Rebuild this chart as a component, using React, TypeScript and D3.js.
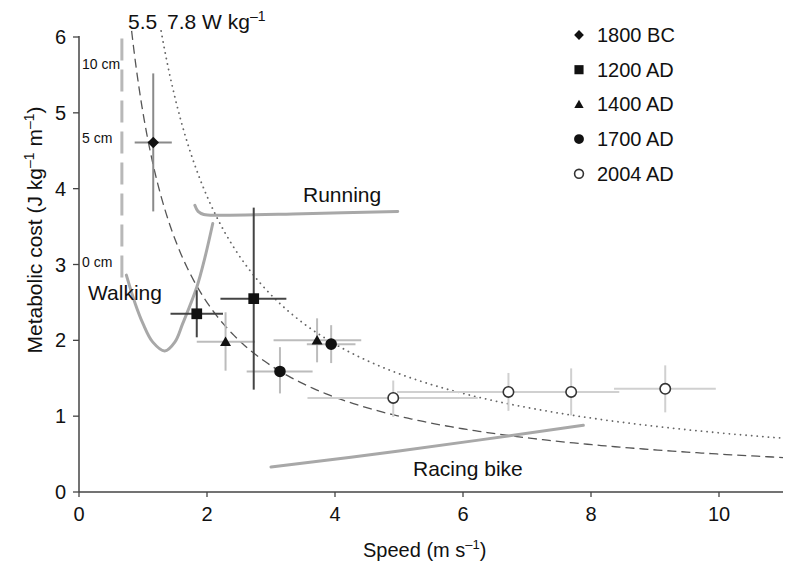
import React, {useEffect, useRef} from 'react';
import * as d3 from 'd3';

// chart size (the page window)
const W = 788;
const H = 563;

// axis ticks
const xTicks = [0, 2, 4, 6, 8, 10];
const yTicks = [0, 1, 2, 3, 4, 5, 6];

// iso-power curves, cost = P / v
const isoLowPower = 5.0;
const isoHighPower = 7.8;

// legend
const eras = ['1800 BC', '1200 AD', '1400 AD', '1700 AD', '2004 AD'];

// measured points: speed, cost and their error bars
type Pt = {v: number, c: number, x0: number, x1: number, y0: number, y1: number};
const bc1800: Pt[] = [{v: 1.16, c: 4.61, x0: 0.87, x1: 1.45, y0: 3.70, y1: 5.52}];
const ad1200: Pt[] = [
    {v: 1.84, c: 2.35, x0: 1.43, x1: 2.25, y0: 2.04, y1: 2.66},
    {v: 2.73, c: 2.55, x0: 2.21, x1: 3.24, y0: 1.35, y1: 3.75}
];
const ad1400: Pt[] = [
    {v: 2.29, c: 1.98, x0: 1.84, x1: 2.75, y0: 1.60, y1: 2.37},
    {v: 3.72, c: 2.00, x0: 3.04, x1: 4.41, y0: 1.71, y1: 2.29}
];
const ad1700: Pt[] = [
    {v: 3.14, c: 1.59, x0: 2.62, x1: 3.65, y0: 1.30, y1: 1.91},
    {v: 3.94, c: 1.95, x0: 3.56, x1: 4.32, y0: 1.70, y1: 2.20}
];
const ad2004: Pt[] = [
    {v: 4.91, c: 1.24, x0: 3.57, x1: 6.23, y0: 0.99, y1: 1.47},
    {v: 6.71, c: 1.32, x0: 4.97, x1: 8.44, y0: 1.07, y1: 1.57},
    {v: 7.69, c: 1.32, x0: 6.94, x1: 8.44, y0: 1.01, y1: 1.63},
    {v: 9.16, c: 1.36, x0: 8.36, x1: 9.95, y0: 1.05, y1: 1.67}
];

// gait curves [speed, cost]
const walking: [number, number][] = [
    [0.74, 2.86], [0.88, 2.48], [1.0, 2.22], [1.15, 1.98], [1.34, 1.86],
    [1.5, 1.98], [1.62, 2.22], [1.84, 2.7], [1.97, 3.1], [2.09, 3.54]
];
const running: [number, number][] = [
    [1.81, 3.78], [1.86, 3.7], [1.95, 3.66], [2.2, 3.65], [3.5, 3.67], [4.98, 3.70]
];
const racingBike: [number, number][] = [[3.0, 0.33], [5.0, 0.54], [7.88, 0.88]];

// leg-length markers on the vertical dashed bar
const legLabels = [{t: '10 cm', c: 5.65}, {t: '5 cm', c: 4.67}, {t: '0 cm', c: 3.03}];
const legBar = {v: 0.67, c0: 2.82, c1: 5.98};

const font = '"Liberation Sans", Arial, sans-serif';

const App = () => {
    const anchor = useRef<SVGSVGElement>(null);

    useEffect(() => {
        const svg = d3.select(anchor.current);
        svg.selectAll('*').remove();

        const x = d3.scaleLinear().domain([0, 11]).range([79, 783]);
        const y = d3.scaleLinear().domain([0, 6]).range([492, 37]);

        const g = svg.append('g');

        // axes
        const axisColor = '#444';
        g.append('line').attr('x1', x(0)).attr('x2', x(11)).attr('y1', y(0)).attr('y2', y(0))
            .attr('stroke', axisColor).attr('stroke-width', 1.5);
        g.append('line').attr('x1', x(0)).attr('x2', x(0)).attr('y1', y(0)).attr('y2', y(6) - 1)
            .attr('stroke', axisColor).attr('stroke-width', 1.5);

        xTicks.forEach(t => {
            g.append('line').attr('x1', x(t)).attr('x2', x(t)).attr('y1', y(0)).attr('y2', y(0) + 5)
                .attr('stroke', axisColor).attr('stroke-width', 1.3);
            g.append('text').attr('x', x(t)).attr('y', 521).attr('text-anchor', 'middle')
                .style('font-family', font).style('font-size', '20px').attr('fill', '#111').text(t);
        });
        yTicks.forEach(t => {
            g.append('line').attr('x1', x(0) - 6).attr('x2', x(0)).attr('y1', y(t)).attr('y2', y(t))
                .attr('stroke', axisColor).attr('stroke-width', 1.3);
            g.append('text').attr('x', 66).attr('y', y(t) + 7).attr('text-anchor', 'end')
                .style('font-family', font).style('font-size', '20px').attr('fill', '#111').text(t);
        });

        // axis titles
        const xt = g.append('text').attr('x', 363).attr('y', 557)
            .style('font-family', font).style('font-size', '20px').attr('fill', '#111');
        xt.append('tspan').text('Speed (m s');
        xt.append('tspan').attr('dy', -8).style('font-size', '13px').text('–1');
        xt.append('tspan').attr('dy', 8).text(')');

        const yt = g.append('text').attr('transform', 'translate(42,230) rotate(-90)')
            .attr('text-anchor', 'middle')
            .style('font-family', font).style('font-size', '21px').attr('fill', '#111');
        yt.append('tspan').text('Metabolic cost (J kg');
        yt.append('tspan').attr('dy', -8).style('font-size', '14px').text('–1');
        yt.append('tspan').attr('dy', 8).text(' m');
        yt.append('tspan').attr('dy', -8).style('font-size', '14px').text('–1');
        yt.append('tspan').attr('dy', 8).text(')');

        // leg length dashed bar + labels
        g.append('line').attr('x1', x(legBar.v)).attr('x2', x(legBar.v))
            .attr('y1', y(legBar.c1)).attr('y2', y(legBar.c0))
            .attr('stroke', '#b8b8b8').attr('stroke-width', 3).attr('stroke-dasharray', '22,9');
        legLabels.forEach(l => {
            g.append('text').attr('x', 82).attr('y', y(l.c) + 5)
                .style('font-family', font).style('font-size', '14px').attr('fill', '#111').text(l.t);
        });

        // iso-power hyperbolas
        const line = d3.line<[number, number]>().x(d => x(d[0])).y(d => y(d[1]));
        const hyper = (p: number) => {
            const vStart = p / 6.08;
            return d3.range(0, 201).map(i => {
                const v = vStart + (11 - vStart) * Math.pow(i / 200, 1.6);
                return [v, p / v] as [number, number];
            });
        };
        g.append('path').attr('d', line(hyper(isoLowPower))).attr('fill', 'none')
            .attr('stroke', '#555').attr('stroke-width', 1.3).attr('stroke-dasharray', '9,5');
        g.append('path').attr('d', line(hyper(isoHighPower))).attr('fill', 'none')
            .attr('stroke', '#666').attr('stroke-width', 1.8).attr('stroke-linecap', 'round')
            .attr('stroke-dasharray', '0.1,5.5');

        g.append('text').attr('x', 128).attr('y', 29)
            .style('font-family', font).style('font-size', '21px').attr('fill', '#111').text('5.5');
        const iso = g.append('text').attr('x', 167).attr('y', 29)
            .style('font-family', font).style('font-size', '21px').attr('fill', '#111');
        iso.append('tspan').text('7.8 W kg');
        iso.append('tspan').attr('dy', -8).style('font-size', '14px').text('–1');

        // gait curves
        const smooth = d3.line<[number, number]>().x(d => x(d[0])).y(d => y(d[1])).curve(d3.curveCatmullRom);
        [walking, running, racingBike].forEach(c => {
            g.append('path').attr('d', smooth(c)).attr('fill', 'none')
                .attr('stroke', '#a8a8a8').attr('stroke-width', 3).attr('stroke-linecap', 'round');
        });
        const label = (t: string, lx: number, ly: number) =>
            g.append('text').attr('x', lx).attr('y', ly)
                .style('font-family', font).style('font-size', '21px').attr('fill', '#111').text(t);
        label('Walking', 88, 300);
        label('Running', 303, 202);
        label('Racing bike', 413, 476);

        // error bars
        const bars = (pts: Pt[], color: string) => {
            pts.forEach(p => {
                g.append('line').attr('x1', x(p.x0)).attr('x2', x(p.x1)).attr('y1', y(p.c)).attr('y2', y(p.c))
                    .attr('stroke', color).attr('stroke-width', 2);
                g.append('line').attr('x1', x(p.v)).attr('x2', x(p.v)).attr('y1', y(p.y0)).attr('y2', y(p.y1))
                    .attr('stroke', color).attr('stroke-width', 2);
            });
        };
        bars(ad2004, '#d0d0d0');
        bars(ad1400, '#bcbcbc');
        bars(ad1700, '#bcbcbc');
        bars(bc1800, '#8a8a8a');
        bars(ad1200, '#444');

        // markers
        const diamond = d3.symbol().type(d3.symbolSquare).size(66)();
        const square = d3.symbol().type(d3.symbolSquare).size(115)();
        const tri = d3.symbol().type(d3.symbolTriangle).size(52)();
        const circ = d3.symbol().type(d3.symbolCircle).size(105)();
        const marker = (sel: d3.Selection<SVGGElement, unknown, null, undefined>, i: number, scale = 1) => {
            if (i === 0) sel.append('path').attr('d', diamond).attr('fill', '#111')
                .attr('transform', `scale(${scale}) rotate(45)`);
            if (i === 1) sel.append('path').attr('d', square).attr('fill', '#111').attr('transform', `scale(${scale})`);
            if (i === 2) sel.append('path').attr('d', tri).attr('fill', '#111').attr('transform', `scale(${scale}) translate(0,1)`);
            if (i === 3) sel.append('path').attr('d', circ).attr('fill', '#111').attr('transform', `scale(${scale})`);
            if (i === 4) sel.append('circle').attr('r', 5.2 * scale).attr('fill', 'white')
                .attr('stroke', '#333').attr('stroke-width', 1.6);
        };
        [bc1800, ad1200, ad1400, ad1700, ad2004].forEach((pts, i) => {
            pts.forEach(p => {
                const m = g.append('g').attr('transform', `translate(${x(p.v)},${y(p.c)})`);
                marker(m, i);
            });
        });

        // legend
        eras.forEach((e, i) => {
            const ly = 35 + i * 34.7;
            const m = g.append('g').attr('transform', `translate(579,${ly})`);
            marker(m, i, 0.85);
            g.append('text').attr('x', 597).attr('y', ly + 7)
                .style('font-family', font).style('font-size', '20px').attr('fill', '#111').text(e);
        });
    }, []);

    return <svg ref={anchor} width={W} height={H} style={{display: 'block', position: 'absolute', left: 0, top: 0}}/>;
};

export default App;
